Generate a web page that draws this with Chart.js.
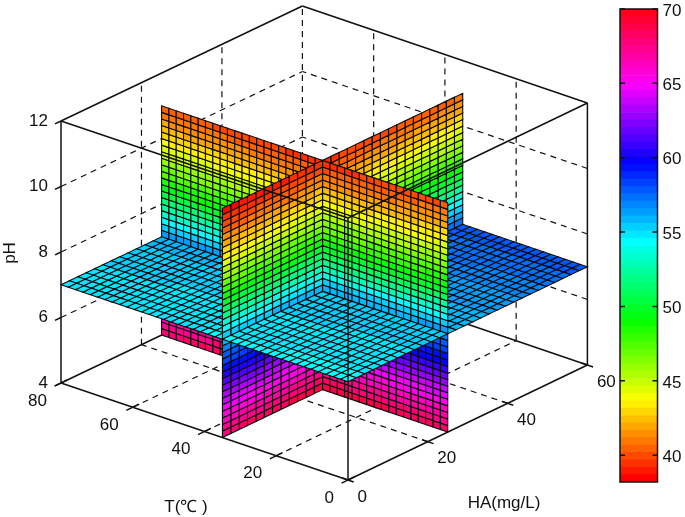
<!DOCTYPE html>
<html>
<head>
<meta charset="utf-8">
<title>Slice plot</title>
<script src="https://cdn.jsdelivr.net/npm/chart.js@4/dist/chart.umd.min.js"></script>
<style>
body { margin: 0; background: #fff; }
canvas { position: absolute; top: 0; }
#slices { left: 0; }
#colorbar { left: 590px; }
</style>
</head>
<body>
<canvas id="slices" width="685" height="517"></canvas>
<canvas id="colorbar" width="95" height="517"></canvas>
<script>
// axis ticks
var tTicks = [0, 20, 40, 60, 80];
var haTicks = [0, 20, 40, 60];
var phTicks = [4, 6, 8, 10, 12];
var colorTicks = [40, 45, 50, 55, 60, 65, 70];
var colorMin = 38.2, colorMax = 70, colorLevels = 64;

// where the three slices sit
var tSlice = 35, haSlice = 25, phSlice = 7;

// mesh nodes of the slices
var tNodes = [0, 2.06, 4.12, 6.18, 8.24, 10.29, 12.35, 14.41, 16.47, 18.53, 20.59, 22.65, 24.71, 26.76, 28.82, 30.88, 32.94, 35,
    37.05, 39.09, 41.14, 43.18, 45.23, 47.27, 49.32, 51.36, 53.41, 55.45, 57.5, 59.55, 61.59, 63.64, 65.68, 67.73, 69.77, 71.82, 73.86, 75.91, 77.95, 80];
var haNodes = [0, 2.08, 4.17, 6.25, 8.33, 10.42, 12.5, 14.58, 16.67, 18.75, 20.83, 22.92, 25,
    27.06, 29.12, 31.18, 33.24, 35.29, 37.35, 39.41, 41.47, 43.53, 45.59, 47.65, 49.71, 51.76, 53.82, 55.88, 57.94, 60];
var phNodes = [4, 4.2, 4.4, 4.6, 4.8, 5, 5.2, 5.4, 5.6, 5.8, 6, 6.2, 6.4, 6.6, 6.8, 7, 7.2, 7.4, 7.6, 7.8, 8, 8.2, 8.4, 8.6, 8.8, 9, 9.2, 9.4, 9.6, 9.8, 10, 10.2, 10.4, 10.6, 10.8, 11];

// values, row by row up the pH axis
var phRowValues = [67.9, 67.2, 66.5, 65.8, 65.1, 64.3, 63.5, 62.6, 61.7, 60.7, 59.9, 59.1, 58.4, 57.7, 57, 56.1, 55.2, 54.2, 53.2, 52.2, 51.2, 50.2, 49.2, 48.3, 47.5, 46.7, 45.9, 45.1, 44.4, 43.7, 43, 42.3, 41.7, 41.1, 40.5];
// how far a row moves towards the T slice (ends of the range are stretched there)
var phRowLean = [0.97, 0.9, 0.83, 0.77, 0.7, 0.63, 0.57, 0.5, 0.43, 0.37, 0.3, 0.23, 0.17, 0.1, 0.03, -0.03, -0.08, -0.13, -0.18, -0.23, -0.28, -0.33, -0.38, -0.43, -0.48, -0.53, -0.58, -0.63, -0.68, -0.73, -0.78, -0.83, -0.88, -0.93, -0.98];
var tColumnBend = [0.3, 0.33, 0.37, 0.41, 0.45, 0.49, 0.54, 0.59, 0.64, 0.69, 0.74, 0.79, 0.84, 0.88, 0.92, 0.96, 0.99,
    1, 0.97, 0.93, 0.89, 0.85, 0.8, 0.76, 0.71, 0.66, 0.61, 0.56, 0.51, 0.46, 0.41, 0.36, 0.31, 0.26, 0.21, 0.16, 0.11, 0.06, 0.02];
var haColumnShift = [-0.96, -0.88, -0.79, -0.71, -0.62, -0.54, -0.46, -0.37, -0.29, -0.21, -0.12, -0.04,
    0.04, 0.11, 0.19, 0.26, 0.34, 0.41, 0.49, 0.56, 0.64, 0.71, 0.79, 0.86, 0.94, 1.01, 1.09, 1.16, 1.24];
// the pH 7 slice, read along HA and along T
var floorHaValues = [54.4, 54.5, 54.6, 54.6, 54.7, 54.8, 54.9, 55, 55.1, 55.2, 55.3, 55.4,
    55.5, 55.6, 55.7, 55.9, 56, 56.1, 56.3, 56.4, 56.5, 56.7, 56.8, 57, 57.1, 57.3, 57.4, 57.6, 57.8];
var floorTShift = [0, 0.01, 0.02, 0.03, 0.04, 0.05, 0.06, 0.07, 0.08, 0.09, 0.1, 0.11, 0.12, 0.13, 0.14, 0.15, 0.16,
    0.17, 0.18, 0.19, 0.2, 0.21, 0.22, 0.23, 0.24, 0.25, 0.26, 0.27, 0.28, 0.29, 0.3, 0.31, 0.32, 0.33, 0.34, 0.35, 0.36, 0.37, 0.38];

// box projection, in the units of the hidden x/y scales
function project(t, ha, ph) {
    return {
        x: 348 - 3.5875 * t + 3.99 * ha + 2 * (t / 80) * (ha / 60),
        y: 480 - 1.2125 * t - 1.917 * ha - 32.75 * (ph - 4)
    };
}

function colorOf(v) {
    var level = Math.floor((v - colorMin) / (colorMax - colorMin) * colorLevels);
    level = Math.max(0, Math.min(colorLevels - 1, level));
    return 'hsl(' + (level / colorLevels * 360) + ',100%,50%)';
}

function depthOf(t, ha, ph) {
    return t / 80 + ha / 60 - (ph - 4) / 8;
}

function cellDataset(corners, value) {
    var pts = corners.map(function (c) { return project(c[0], c[1], c[2]); });
    pts.push(pts[0]);
    var mid = [0, 1, 2].map(function (n) {
        return corners.reduce(function (s, c) { return s + c[n]; }, 0) / 4;
    });
    return {
        data: pts,
        showLine: true,
        fill: 'shape',
        backgroundColor: colorOf(value),
        borderColor: '#0c0c0c',
        borderWidth: 1.1,
        pointRadius: 0,
        depth: depthOf(mid[0], mid[1], mid[2])
    };
}

function lineDataset(a, b, dashed) {
    return {
        data: [project(a[0], a[1], a[2]), project(b[0], b[1], b[2])],
        showLine: true,
        fill: false,
        borderColor: '#111',
        borderWidth: dashed ? 1.2 : 1.5,
        borderDash: dashed ? [6, 5] : [],
        pointRadius: 0
    };
}

var cells = [];
var i, j, k;
// slice at constant HA
for (i = 0; i < tNodes.length - 1; i++) {
    for (k = 0; k < phNodes.length - 1; k++) {
        cells.push(cellDataset([
            [tNodes[i], haSlice, phNodes[k]], [tNodes[i + 1], haSlice, phNodes[k]],
            [tNodes[i + 1], haSlice, phNodes[k + 1]], [tNodes[i], haSlice, phNodes[k + 1]]
        ], phRowValues[k] + tColumnBend[i] * phRowLean[k]));
    }
}
// slice at constant T
for (j = 0; j < haNodes.length - 1; j++) {
    for (k = 0; k < phNodes.length - 1; k++) {
        cells.push(cellDataset([
            [tSlice, haNodes[j], phNodes[k]], [tSlice, haNodes[j + 1], phNodes[k]],
            [tSlice, haNodes[j + 1], phNodes[k + 1]], [tSlice, haNodes[j], phNodes[k + 1]]
        ], phRowValues[k] + phRowLean[k] + haColumnShift[j]));
    }
}
// slice at constant pH
for (i = 0; i < tNodes.length - 1; i++) {
    for (j = 0; j < haNodes.length - 1; j++) {
        cells.push(cellDataset([
            [tNodes[i], haNodes[j], phSlice], [tNodes[i + 1], haNodes[j], phSlice],
            [tNodes[i + 1], haNodes[j + 1], phSlice], [tNodes[i], haNodes[j + 1], phSlice]
        ], floorHaValues[j] + floorTShift[i]));
    }
}
// nearest cell first, chart.js paints the first dataset last
cells.sort(function (a, b) { return a.depth - b.depth; });

var tEnd = tTicks[tTicks.length - 1], haEnd = haTicks[haTicks.length - 1];
var phLow = phTicks[0], phHigh = phTicks[phTicks.length - 1];

// lines in front of the slices
var front = [
    lineDataset([0, 0, phLow], [tEnd, 0, phLow]),
    lineDataset([0, 0, phLow], [0, haEnd, phLow]),
    lineDataset([0, 0, phLow], [0, 0, phHigh]),
    lineDataset([0, 0, phHigh], [tEnd, 0, phHigh]),
    lineDataset([0, 0, phHigh], [0, haEnd, phHigh]),
    lineDataset([tEnd, 0, phLow], [tEnd, 0, phHigh]),
    lineDataset([0, haEnd, phLow], [0, haEnd, phHigh]),
    lineDataset([tEnd, 0, phHigh], [tEnd, haEnd, phHigh]),
    lineDataset([0, haEnd, phHigh], [tEnd, haEnd, phHigh])
];
// small tick marks
tTicks.forEach(function (t) {
    front.push(lineDataset([t, -1.6, phLow], [t, 1.6, phLow]));
});
haTicks.forEach(function (ha) {
    front.push(lineDataset([-1.6, ha, phLow], [1.6, ha, phLow]));
});
phTicks.forEach(function (ph) {
    front.push(lineDataset([tEnd, 0, ph], [tEnd, -1.5, ph]));
});

// walls and floor behind the slices
var back = [
    lineDataset([tEnd, 0, phLow], [tEnd, haEnd, phLow]),
    lineDataset([0, haEnd, phLow], [tEnd, haEnd, phLow]),
    lineDataset([tEnd, haEnd, phLow], [tEnd, haEnd, phHigh], true)
];
tTicks.slice(1, -1).forEach(function (t) {
    back.push(lineDataset([t, 0, phLow], [t, haEnd, phLow], true));
    back.push(lineDataset([t, haEnd, phLow], [t, haEnd, phHigh], true));
});
haTicks.slice(1, -1).forEach(function (ha) {
    back.push(lineDataset([0, ha, phLow], [tEnd, ha, phLow], true));
    back.push(lineDataset([tEnd, ha, phLow], [tEnd, ha, phHigh], true));
});
phTicks.slice(1, -1).forEach(function (ph) {
    back.push(lineDataset([0, haEnd, ph], [tEnd, haEnd, ph], true));
    back.push(lineDataset([tEnd, 0, ph], [tEnd, haEnd, ph], true));
});

var axisText = {
    id: 'axisText',
    afterDraw: function (chart) {
        var ctx = chart.ctx, sx = chart.scales.x, sy = chart.scales.y;
        function put(text, p, dx, dy, align) {
            ctx.textAlign = align;
            ctx.fillText(text, sx.getPixelForValue(p.x) + dx, sy.getPixelForValue(p.y) + dy);
        }
        ctx.save();
        ctx.fillStyle = '#111';
        ctx.font = '17px "Liberation Sans"';
        ctx.textBaseline = 'middle';
        tTicks.forEach(function (t) { put(String(t), project(t, 0, phLow), -14, 18, 'right'); });
        haTicks.forEach(function (ha) { put(String(ha), project(0, ha, phLow), 9.5, 17, 'left'); });
        phTicks.forEach(function (ph) { put(String(ph), project(tEnd, 0, ph), -13, 0, 'right'); });
        ctx.textAlign = 'center';
        ctx.fillText('T(℃ )', 186, 507);
        ctx.fillText('HA(mg/L)', 504, 503);
        ctx.translate(10, 253);
        ctx.rotate(-Math.PI / 2);
        ctx.fillText('pH', 0, 0);
        ctx.restore();
    }
};

new Chart(document.getElementById('slices'), {
    type: 'scatter',
    data: { datasets: front.concat(cells, back) },
    options: {
        responsive: false,
        animation: false,
        events: [],
        devicePixelRatio: 1,
        layout: { padding: 0 },
        plugins: { legend: { display: false }, tooltip: { enabled: false } },
        scales: {
            x: { type: 'linear', min: 0, max: 685, display: false },
            y: { type: 'linear', min: 0, max: 517, reverse: true, display: false }
        }
    },
    plugins: [axisText]
});

// colour bar
var bandSets = [];
for (i = 0; i < colorLevels; i++) {
    var lo = colorMin + (colorMax - colorMin) * i / colorLevels;
    var hi = colorMin + (colorMax - colorMin) * (i + 1) / colorLevels;
    bandSets.push({
        data: [[lo, hi]],
        backgroundColor: colorOf((lo + hi) / 2),
        borderWidth: 0,
        grouped: false,
        barPercentage: 1,
        categoryPercentage: 1
    });
}

var barFrame = {
    id: 'barFrame',
    afterDraw: function (chart) {
        var ctx = chart.ctx, a = chart.chartArea, sy = chart.scales.y;
        ctx.save();
        ctx.strokeStyle = '#111';
        ctx.lineWidth = 1.5;
        ctx.strokeRect(a.left, a.top, a.right - a.left, a.bottom - a.top);
        colorTicks.forEach(function (v) {
            var y = sy.getPixelForValue(v);
            ctx.beginPath();
            ctx.moveTo(a.left, y);
            ctx.lineTo(a.left + 5, y);
            ctx.moveTo(a.right - 5, y);
            ctx.lineTo(a.right, y);
            ctx.stroke();
        });
        ctx.restore();
    }
};

new Chart(document.getElementById('colorbar'), {
    type: 'bar',
    data: { labels: [''], datasets: bandSets },
    options: {
        responsive: false,
        animation: false,
        events: [],
        devicePixelRatio: 1,
        layout: { padding: { left: 30, top: 9, bottom: 35, right: 0 } },
        plugins: { legend: { display: false }, tooltip: { enabled: false } },
        scales: {
            x: { display: false },
            y: {
                position: 'right',
                min: colorMin,
                max: colorMax,
                grid: { display: false, drawTicks: false },
                border: { display: false },
                afterBuildTicks: function (scale) {
                    scale.ticks = colorTicks.map(function (v) { return { value: v }; });
                },
                afterFit: function (scale) {
                    scale.width = 27.5;
                    scale.paddingTop = 0;
                    scale.paddingBottom = 0;
                },
                ticks: {
                    padding: 5,
                    labelOffset: 2,
                    autoSkip: false,
                    color: '#111',
                    font: { family: '"Liberation Sans"', size: 17 }
                }
            }
        }
    },
    plugins: [barFrame]
});
</script>
</body>
</html>
